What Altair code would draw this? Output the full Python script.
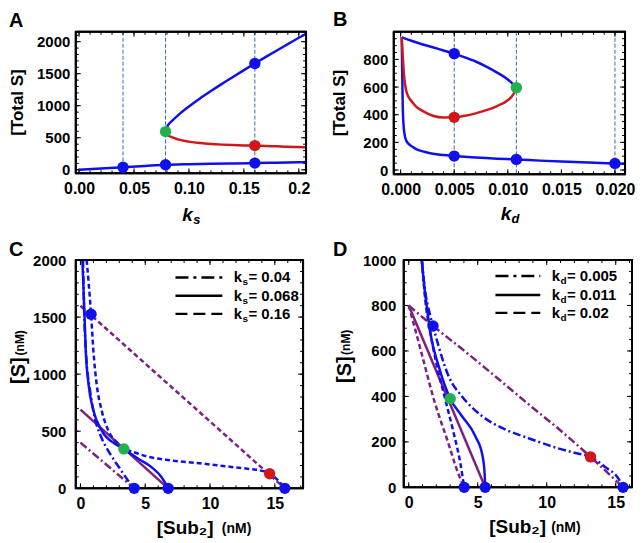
import altair as alt
import pandas as pd

FONT = "Liberation Sans"
BLUE = "#1010ee"
RED = "#d01818"
GREEN = "#22b24c"
PURPLE = "#7f1f7f"
GUIDE = "#3d6a9e"
DASH = [5, 3]
DASHDOT = [8, 3, 2, 3]

# ---------------- Panel A data ----------------
a_low_x = [0.0, 0.02, 0.04, 0.06, 0.0787, 0.10, 0.12, 0.14, 0.16, 0.18, 0.20, 0.2066]
a_low_y = [0, 20, 40, 60, 78, 88, 95, 100, 105, 111, 118, 120]
a_up_x = [0.0787, 0.08, 0.085, 0.09, 0.10, 0.11, 0.12, 0.13, 0.14, 0.15, 0.16, 0.17, 0.18, 0.19, 0.20, 0.2066]
a_up_y = [597, 664, 770, 850, 988, 1113, 1229, 1341, 1449, 1556, 1660, 1762, 1863, 1962, 2061, 2125]
a_red_x = [0.0787, 0.08, 0.085, 0.09, 0.10, 0.11, 0.12, 0.13, 0.14, 0.15, 0.16, 0.17, 0.18, 0.19, 0.20, 0.2066]
a_red_y = [597, 555, 505, 475, 440, 418, 403, 393, 386, 381, 378, 372, 366, 360, 355, 352]
a_guides = [0.04, 0.0787, 0.16]
a_blue_pt_x = [0.04, 0.0787, 0.16, 0.16]
a_blue_pt_y = [40, 78, 105, 1660]
a_red_pt_x = [0.16]
a_red_pt_y = [378]
a_green_pt_x = [0.0787]
a_green_pt_y = [597]

# ---------------- Panel B data ----------------
b_up_x = [0.0001, 0.001, 0.002, 0.003, 0.004, 0.005, 0.006, 0.007, 0.008, 0.009, 0.010, 0.0105, 0.0108]
b_up_y = [960, 935, 910, 888, 865, 842, 815, 785, 748, 705, 655, 620, 596]
b_red_x = [0.0001, 0.0002, 0.0003, 0.0005, 0.0008, 0.001, 0.0015, 0.002, 0.003, 0.004, 0.005,
           0.006, 0.007, 0.008, 0.009, 0.010, 0.0105, 0.0108]
b_red_y = [960, 820, 700, 580, 520, 500, 455, 430, 393, 380, 381, 392, 410, 433, 463, 505, 545, 596]
b_low_x = [0.0001, 0.00015, 0.0002, 0.0003, 0.0005, 0.0008, 0.0011, 0.0015, 0.0022, 0.003, 0.004,
           0.005, 0.007, 0.009, 0.0108, 0.013, 0.015, 0.0175, 0.02, 0.0209]
b_low_y = [960, 700, 450, 300, 217, 185, 168, 150, 132, 118, 108, 101, 90, 82, 77, 68, 61, 54, 48, 46]
b_guides = [0.005, 0.0108, 0.02]
b_blue_pt_x = [0.005, 0.005, 0.0108, 0.02]
b_blue_pt_y = [842, 101, 77, 48]
b_red_pt_x = [0.005]
b_red_pt_y = [381]
b_green_pt_x = [0.0108]
b_green_pt_y = [596]

# ---------------- Panel C data ----------------
c_bdd_x = [0.2, 0.3, 0.45, 0.75, 1.1, 1.6, 2.3, 3.0, 3.6, 4.15]
c_bdd_y = [2000, 1500, 1150, 850, 620, 450, 300, 180, 80, 0]
c_bso_x = [0.15, 0.31, 0.41, 0.62, 1.0, 1.64, 2.66, 3.35, 4.46, 5.48, 6.25, 6.77]
c_bso_y = [2000, 1525, 1205, 914, 681, 506, 390, 345, 259, 186, 99, 0]
c_bda_x = [0.48, 0.82, 1.0, 1.25, 1.64, 2.15, 2.92, 4.46, 7.02, 9.0, 11.28, 13.0, 13.85, 14.6, 15.25, 15.77]
c_bda_y = [2000, 1525, 1205, 914, 681, 506, 390, 303, 244, 222, 192, 170, 157, 128, 70, 0]
c_pdd_x = [0, 4.15]
c_pdd_y = [400, 0]
c_pso_x = [0, 6.77]
c_pso_y = [690, 0]
c_pda_x = [0, 15.77]
c_pda_y = [1600, 0]
c_blue_pt_x = [0.82, 4.15, 6.77, 15.77]
c_blue_pt_y = [1525, 0, 0, 0]
c_red_pt_x = [14.6]
c_red_pt_y = [128]
c_green_pt_x = [3.35]
c_green_pt_y = [345]
c_legend = ["0.04", "0.068", "0.16"]

# ---------------- Panel D data ----------------
d_bdd_x = [0.95, 1.2, 1.5, 1.76, 2.17, 2.89, 3.85, 5.3, 6.98, 8.55, 10.64, 12.0, 13.17, 14.26, 15.22, 15.53]
d_bdd_y = [1000, 860, 770, 710, 620, 489, 401, 314, 255, 219, 175, 152, 134, 88, 36, 0]
d_bso_x = [0.95, 1.1, 1.3, 1.57, 2.17, 3.01, 3.85, 4.82, 5.35, 5.5, 5.54]
d_bso_y = [1000, 900, 800, 679, 533, 390, 314, 226, 138, 60, 0]
d_bda_x = [0.95, 1.2, 1.57, 2.05, 2.65, 3.25, 3.73, 4.02]
d_bda_y = [1000, 825, 679, 533, 387, 241, 110, 0]
d_pdd_x = [0, 1.76, 4.0, 6.0, 8.55, 11.0, 13.17, 15.53]
d_pdd_y = [800, 710, 602, 502, 372, 250, 134, 0]
d_pso_x = [0, 5.54]
d_pso_y = [800, 0]
d_pda_x = [0, 0.45, 0.91, 1.88, 2.84, 3.56, 4.02]
d_pda_y = [800, 700, 595, 375, 200, 66, 0]
d_blue_pt_x = [1.76, 4.02, 5.54, 15.53]
d_blue_pt_y = [710, 0, 0, 0]
d_red_pt_x = [13.17]
d_red_pt_y = [134]
d_green_pt_x = [3.01]
d_green_pt_y = [390]
d_legend = ["0.005", "0.011", "0.02"]


def frange(start, stop, step):
    n = int(round((stop - start) / step))
    return [round(start + i * step, 6) for i in range(n + 1)]


def axis(values, fmt, size, pad, expr=None):
    kw = dict(values=values, ticks=False, domain=False, grid=False, labelFont=FONT,
              labelFontWeight="bold", labelFontSize=size, labelColor="black",
              labelPadding=pad, labelFlush=False, labelOverlap=False, labelBound=False,
              title=None, format=fmt)
    if expr:
        kw["labelExpr"] = expr
    return alt.Axis(**kw)


def txt(s, x, y, size=16, style="normal", align="left", baseline="alphabetic", angle=0):
    return alt.Chart(pd.DataFrame({"t": [s]})).mark_text(
        font=FONT, fontSize=size, fontWeight="bold", fontStyle=style, align=align,
        baseline=baseline, angle=angle, color="black"
    ).encode(x=alt.value(x), y=alt.value(y), text="t:N")


def frame(w, h):
    one = pd.DataFrame({"a": [0]})
    r = dict(color="black", strokeWidth=2)
    return [
        alt.Chart(one).mark_rule(**r).encode(x=alt.value(0), x2=alt.value(w), y=alt.value(0)),
        alt.Chart(one).mark_rule(**r).encode(x=alt.value(0), x2=alt.value(w), y=alt.value(h)),
        alt.Chart(one).mark_rule(**r).encode(y=alt.value(0), y2=alt.value(h), x=alt.value(0)),
        alt.Chart(one).mark_rule(**r).encode(y=alt.value(0), y2=alt.value(h), x=alt.value(w)),
    ]


def build(p):
    w, h = p["w"], p["h"]
    xs = alt.Scale(domain=p["xdom"], nice=False, zero=False)
    ys = alt.Scale(domain=p["ydom"], nice=False, zero=False)

    def X():
        return alt.X("x", type="quantitative", scale=xs, axis=p["xaxis"])

    def Y():
        return alt.Y("y", type="quantitative", scale=ys, axis=p["yaxis"])

    layers = []
    for g in p.get("guides", []):
        layers.append(alt.Chart(pd.DataFrame({"x": g})).mark_rule(
            color=GUIDE, strokeWidth=1, strokeDash=[4, 2]
        ).encode(x=X(), y=alt.value(0), y2=alt.value(h)))
    # inside ticks
    for vals, ln in ((p["xmaj"], 5), (p["xmin"], 3)):
        d = pd.DataFrame({"x": vals})
        layers.append(alt.Chart(d).mark_rule(color="black", strokeWidth=1).encode(
            x=X(), y=alt.value(h), y2=alt.value(h - ln)))
        layers.append(alt.Chart(d).mark_rule(color="black", strokeWidth=1).encode(
            x=X(), y=alt.value(0), y2=alt.value(ln)))
    for vals, ln in ((p["ymaj"], 5), (p["ymin"], 3)):
        d = pd.DataFrame({"y": vals})
        layers.append(alt.Chart(d).mark_rule(color="black", strokeWidth=1).encode(
            y=Y(), x=alt.value(0), x2=alt.value(ln)))
        layers.append(alt.Chart(d).mark_rule(color="black", strokeWidth=1).encode(
            y=Y(), x=alt.value(w), x2=alt.value(w - ln)))
    for xs_, ys_, col, dash, interp in p["lines"]:
        kw = dict(color=col, strokeWidth=2.5, clip=True, interpolate=interp)
        if dash:
            kw["strokeDash"] = dash
        d = pd.DataFrame({"x": xs_, "y": ys_, "i": list(range(len(xs_)))})
        layers.append(alt.Chart(d).mark_line(**kw).encode(
            x=X(), y=Y(), order=alt.Order("i:Q")))
    layers.extend(frame(w, h))
    for xs_, ys_, col in p["points"]:
        d = pd.DataFrame({"x": xs_, "y": ys_})
        layers.append(alt.Chart(d).mark_circle(color=col, size=130, opacity=1).encode(
            x=X(), y=Y()))
    layers.extend(p["texts"])
    return alt.layer(*layers).properties(width=w, height=h)


def legend(x1, x2, xk, xsub, xeq, ys, sub, labels):
    out = []
    for y, lab, dash in zip(ys, labels, [[13, 5, 3, 5], None, [12, 6]]):
        kw = dict(color="black", strokeWidth=2.5)
        if dash:
            kw["strokeDash"] = dash
        out.append(alt.Chart(pd.DataFrame({"a": [0]})).mark_rule(**kw).encode(
            x=alt.value(x1), x2=alt.value(x2), y=alt.value(y - 5)))
        out.append(txt("k", xk, y, size=15))
        out.append(txt(sub, xsub, y + 3, size=10))
        out.append(txt("= " + lab, xeq, y, size=15))
    return out


# ---------------- panels ----------------
WA, HA = 231, 142
pA = dict(
    w=WA, h=HA, xdom=[-0.003, 0.2066], ydom=[-55, 2155],
    xaxis=axis(frange(0, 0.2, 0.05), ".2f", 16, 7,
               "datum.value >= 0.2 ? '0.2' : format(datum.value, '.2f')"),
    yaxis=axis(frange(0, 2000, 500), "d", 15, 6),
    xmaj=frange(0, 0.2, 0.05), xmin=frange(0, 0.2, 0.01),
    ymaj=frange(0, 2000, 500), ymin=frange(0, 2100, 100),
    guides=[a_guides],
    lines=[(a_low_x, a_low_y, BLUE, None, "monotone"),
           (a_up_x, a_up_y, BLUE, None, "monotone"),
           (a_red_x, a_red_y, RED, None, "monotone")],
    points=[(a_blue_pt_x, a_blue_pt_y, BLUE), (a_red_pt_x, a_red_pt_y, RED),
            (a_green_pt_x, a_green_pt_y, GREEN)],
    texts=[txt("A", -67, -5, size=20),
           txt("[Total S]", -58, HA / 2, size=17, align="center", baseline="middle", angle=270),
           txt("k", 106.7, 190, size=19, style="italic"),
           txt("s", 117.9, 193, size=13, style="italic")],
)

WB, HB = 232, 143
pB = dict(
    w=WB, h=HB, xdom=[-0.00064, 0.02094], ydom=[-31, 1000],
    xaxis=axis(frange(0, 0.02, 0.005), ".3f", 16, 7),
    yaxis=axis(frange(0, 800, 200), "d", 15, 6),
    xmaj=frange(0, 0.02, 0.005), xmin=frange(0, 0.02, 0.001),
    ymaj=frange(0, 800, 200), ymin=frange(0, 950, 50),
    guides=[b_guides],
    lines=[(b_low_x, b_low_y, BLUE, None, "monotone"),
           (b_up_x, b_up_y, BLUE, None, "monotone"),
           (b_red_x, b_red_y, RED, None, "monotone")],
    points=[(b_blue_pt_x, b_blue_pt_y, BLUE), (b_red_pt_x, b_red_pt_y, RED),
            (b_green_pt_x, b_green_pt_y, GREEN)],
    texts=[txt("B", -61, -6, size=20),
           txt("[Total S]", -53.5, HB / 2, size=17, align="center", baseline="middle", angle=270),
           txt("k", 107.4, 189, size=19, style="italic"),
           txt("d", 118.2, 192, size=13, style="italic")],
)

WC, HC = 228, 229
pC = dict(
    w=WC, h=HC, xdom=[-0.36, 17.18], ydom=[0, 2000],
    xaxis=axis([0, 5, 10, 15], "d", 16, 7),
    yaxis=axis(frange(0, 2000, 500), "d", 15, 10),
    xmaj=[0, 5, 10, 15], xmin=frange(0, 17, 1),
    ymaj=frange(0, 2000, 500), ymin=frange(0, 2000, 100),
    lines=[(c_pdd_x, c_pdd_y, PURPLE, DASHDOT, "linear"),
           (c_pso_x, c_pso_y, PURPLE, None, "linear"),
           (c_pda_x, c_pda_y, PURPLE, DASH, "linear"),
           (c_bdd_x, c_bdd_y, BLUE, DASHDOT, "monotone"),
           (c_bso_x, c_bso_y, BLUE, None, "monotone"),
           (c_bda_x, c_bda_y, BLUE, DASH, "monotone")],
    points=[(c_blue_pt_x, c_blue_pt_y, BLUE), (c_red_pt_x, c_red_pt_y, RED),
            (c_green_pt_x, c_green_pt_y, GREEN)],
    texts=[txt("C", -67, -4, size=20),
           txt("[S]", -57, 111, size=20, align="center", baseline="middle", angle=270),
           txt("(nM)", -56, 83, size=12, align="center", baseline="middle", angle=270),
           txt("[Sub\u2082]", 109.7, 269, size=19, align="center", baseline="middle"),
           txt("(nM)", 161.3, 270, size=14, align="center", baseline="middle")]
    + legend(100, 147, 158.5, 167.2, 173.2, [22.4, 40.7, 59], "s", c_legend),
)

WD, HD = 229, 228
pD = dict(
    w=WD, h=HD, xdom=[-0.36, 16.18], ydom=[0, 1000],
    xaxis=axis([0, 5, 10, 15], "d", 16, 7),
    yaxis=axis(frange(0, 1000, 200), "d", 15, 8),
    xmaj=[0, 5, 10, 15], xmin=frange(0, 16, 1),
    ymaj=frange(0, 1000, 200), ymin=frange(0, 1000, 50),
    lines=[(d_pdd_x, d_pdd_y, PURPLE, DASHDOT, "monotone"),
           (d_pso_x, d_pso_y, PURPLE, None, "linear"),
           (d_pda_x, d_pda_y, PURPLE, DASH, "monotone"),
           (d_bdd_x, d_bdd_y, BLUE, DASHDOT, "monotone"),
           (d_bso_x, d_bso_y, BLUE, None, "monotone"),
           (d_bda_x, d_bda_y, BLUE, DASH, "monotone")],
    points=[(d_blue_pt_x, d_blue_pt_y, BLUE), (d_red_pt_x, d_red_pt_y, RED),
            (d_green_pt_x, d_green_pt_y, GREEN)],
    texts=[txt("D", -71, -4, size=20),
           txt("[S]", -59, 110, size=20, align="center", baseline="middle", angle=270),
           txt("(nM)", -58, 82.5, size=12, align="center", baseline="middle", angle=270),
           txt("[Sub\u2082]", 114.3, 268, size=19, align="center", baseline="middle"),
           txt("(nM)", 162.7, 269, size=14, align="center", baseline="middle")]
    + legend(92, 137, 148.5, 157.2, 163.7, [21, 40, 58], "d", d_legend),
)

top = alt.hconcat(build(pA), build(pB), spacing=19)
bottom = alt.hconcat(build(pC), build(pD), spacing=27)
chart = alt.vconcat(top, bottom, spacing=11).configure_view(
    stroke="black", strokeWidth=2
).properties(padding=0, background="white")

chart.save("out.html", embed_options={"renderer": "svg", "actions": False})
